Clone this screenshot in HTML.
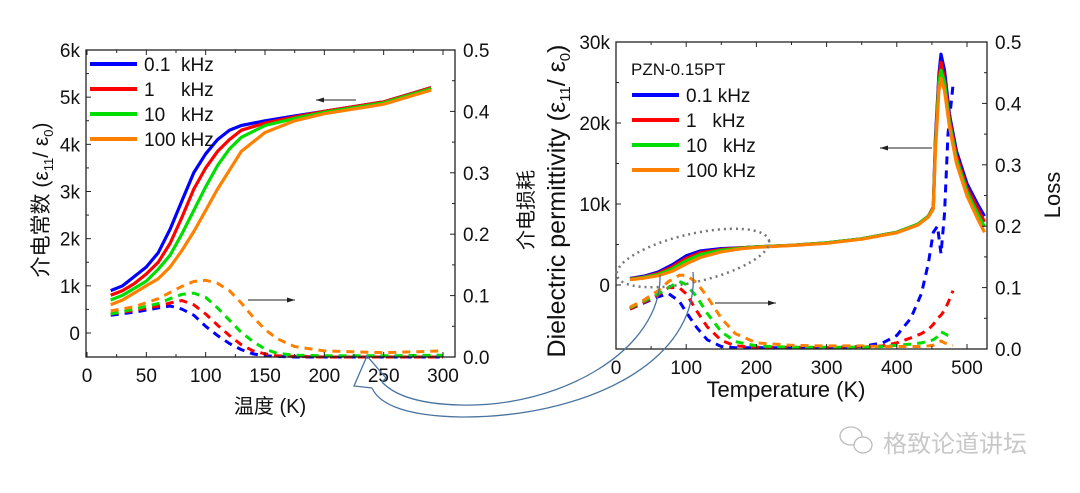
<!DOCTYPE html>
<html><head><meta charset="utf-8"><style>
html,body{margin:0;padding:0;background:#fff;}
svg{display:block;font-family:"Liberation Sans","Noto Sans CJK SC",sans-serif;}
</style></head><body>
<svg id="s" width="1080" height="493" viewBox="0 0 1080 493" xmlns="http://www.w3.org/2000/svg">
<g id="L"></g>
<g id="R"></g>
<g fill="none" stroke="#4a74a0" stroke-width="1.3">
<path d="M660,275 C662,350 560,408 460,405 C420,404 395,396 382,382"/>
<path d="M693,272 C700,365 580,418 460,417 C410,416 380,406 372,388"/>
<path d="M382,382 L386,378 L367,356 L354,386 L372,388"/>
</g>
<g>
<g fill="none" stroke="#bbb" stroke-width="1.3"><ellipse cx="851" cy="436" rx="11" ry="9"/><ellipse cx="863" cy="445" rx="9" ry="8" fill="#fff"/></g>
<text x="883" y="452" font-size="24" fill="#c8c8c8">格致论道讲坛</text>
</g>
</svg>
<script>
// ---- Left chart data ----
const leftTemps=[20,30,40,50,60,70,80,90,100,110,120,130,150,175,200,250,290];
const leftEps01=[900,1000,1200,1400,1700,2200,2800,3400,3800,4100,4300,4400,4500,4600,4700,4900,5200];
const leftEps1=[800,900,1050,1250,1500,1900,2450,3050,3500,3850,4100,4300,4450,4580,4700,4900,5200];
const leftEps10=[700,800,950,1100,1350,1650,2100,2600,3100,3550,3900,4150,4400,4550,4680,4880,5180];
const leftEps100=[600,700,850,1000,1150,1400,1750,2150,2600,3050,3450,3850,4250,4500,4650,4850,5150];
const leftLossTemps=[20,40,60,70,80,90,100,110,120,130,140,150,160,175,200,250,300];
const leftLoss01=[0.068,0.073,0.08,0.083,0.078,0.068,0.05,0.035,0.022,0.012,0.005,0.002,0.001,0,0,0,0];
const leftLoss1=[0.07,0.076,0.083,0.088,0.092,0.085,0.07,0.052,0.035,0.02,0.01,0.005,0.002,0.001,0,0,0];
const leftLoss10=[0.07,0.078,0.087,0.095,0.102,0.104,0.097,0.08,0.06,0.04,0.025,0.013,0.006,0.003,0.002,0.002,0.003];
const leftLoss100=[0.075,0.082,0.095,0.105,0.115,0.123,0.125,0.12,0.108,0.088,0.065,0.045,0.03,0.017,0.01,0.007,0.01];
// ---- Right chart data ----
const rightTemps=[20,40,60,80,100,120,150,180,200,250,300,350,400,430,445,452,455,460,463,468,475,485,500,515,525];
const rightEps01=[800,1100,1600,2500,3600,4200,4500,4600,4700,4900,5200,5700,6500,7500,8500,9600,18000,26000,28500,26500,21000,16500,12500,10000,8500];
const rightEps1=[750,1000,1450,2250,3300,4000,4400,4600,4700,4900,5200,5700,6500,7500,8500,9600,17500,25500,27500,25500,20500,16000,12000,9500,7800];
const rightEps10=[700,950,1300,2000,3000,3750,4300,4550,4700,4900,5200,5700,6500,7500,8500,9500,17000,25000,26500,25000,20000,15500,11500,8800,7200];
const rightEps100=[650,850,1150,1700,2600,3400,4100,4500,4650,4880,5150,5650,6450,7400,8400,9400,16500,24000,25500,24000,19500,15000,11000,8200,6500];
const rightLossTemps=[20,40,60,75,90,100,115,130,150,170,200,250,300,350,380,400,420,435,445,452,458,463,468,473,480];
const rightLoss01=[0.065,0.075,0.085,0.09,0.078,0.06,0.035,0.015,0.004,0.002,0.002,0.002,0.002,0.004,0.01,0.022,0.05,0.09,0.14,0.19,0.2,0.155,0.22,0.35,0.43];
const rightLoss1=[0.065,0.076,0.088,0.1,0.1,0.09,0.062,0.036,0.014,0.005,0.003,0.003,0.002,0.003,0.005,0.01,0.018,0.025,0.032,0.04,0.05,0.055,0.063,0.075,0.095];
const rightLoss10=[0.067,0.078,0.09,0.1,0.11,0.105,0.085,0.058,0.028,0.012,0.005,0.003,0.003,0.003,0.004,0.006,0.008,0.01,0.013,0.015,0.02,0.028,0.025,0.022,0.02];
const rightLoss100=[0.068,0.08,0.095,0.11,0.12,0.12,0.108,0.085,0.05,0.025,0.01,0.006,0.005,0.005,0.004,0.004,0.004,0.004,0.005,0.006,0.01,0.013,0.01,0.008,0.006];
const leftXTicks=[0,50,100,150,200,250,300];
const leftYTicks=[0,1000,2000,3000,4000,5000,6000];
const leftYLabels=["0","1k","2k","3k","4k","5k","6k"];
const lossTicks=[0,0.1,0.2,0.3,0.4,0.5];
const rightXTicks=[0,100,200,300,400,500];
const rightYTicks=[0,10000,20000,30000];
const rightYLabels=["0","10k","20k","30k"];
const colors=["#0000ff","#ff0000","#00dd00","#ff8000"];
const legendLabels=["0.1  kHz","1     kHz","10   kHz","100 kHz"];

const NS="http://www.w3.org/2000/svg";
function mk(parent,tag,attrs,txt){const e=document.createElementNS(NS,tag);for(const k in attrs)e.setAttribute(k,attrs[k]);if(txt!==undefined)e.textContent=txt;parent.appendChild(e);return e;}
function lin(d0,d1,r0,r1){return v=>r0+(v-d0)/(d1-d0)*(r1-r0);}

function drawChart(g,cfg){
  const x=lin(cfg.xd[0],cfg.xd[1],cfg.px[0],cfg.px[1]);
  const y=lin(cfg.yd[0],cfg.yd[1],cfg.py[0],cfg.py[1]);
  const y2=lin(0,0.5,cfg.box.b,cfg.box.t);
  const b=cfg.box;
  cfg.loss.forEach((arr,i)=>{
    const p=mk(g,'path',{d:arr.map((v,j)=>(j?'L':'M')+x(cfg.lossT[j]).toFixed(1)+','+y2(v).toFixed(1)).join(''),fill:'none',stroke:colors[i],'stroke-width':3,'stroke-dasharray':'8,6'});
    
    
  });
  cfg.eps.forEach((arr,i)=>{
    const p=mk(g,'path',{d:arr.map((v,j)=>(j?'L':'M')+x(cfg.epsT[j]).toFixed(1)+','+y(v).toFixed(1)).join(''),fill:'none',stroke:colors[i],'stroke-width':3.2,'stroke-linejoin':'round'});
    
    
  });
  const fr=mk(g,'rect',{x:b.l,y:b.t,width:b.r-b.l,height:b.b-b.t,fill:'none',stroke:'#222','stroke-width':1.3});
  
  
  cfg.xt.forEach((t,i)=>{
    const xx=x(t);
    mk(g,'line',{x1:xx,x2:xx,y1:b.b,y2:b.b-5,stroke:'#222'});
    mk(g,'line',{x1:xx,x2:xx,y1:b.t,y2:b.t+5,stroke:'#222'});
    const tl=mk(g,'text',{x:xx,y:b.b+25,'font-size':19,'text-anchor':'middle',fill:'#111'},String(t));
    
    
    if(i<cfg.xt.length-1){const m=x(t+(cfg.xt[1]-cfg.xt[0])/2);mk(g,'line',{x1:m,x2:m,y1:b.b,y2:b.b-3,stroke:'#222'});mk(g,'line',{x1:m,x2:m,y1:b.t,y2:b.t+3,stroke:'#222'});}
  });
  cfg.yt.forEach((t,i)=>{
    const yy=y(t);
    mk(g,'line',{x1:b.l,x2:b.l+5,y1:yy,y2:yy,stroke:'#222'});
    const tl=mk(g,'text',{x:b.l-6,y:yy+7,'font-size':19,'text-anchor':'end',fill:'#111'},cfg.yl[i]);
    
    
    const m=y(t+(cfg.yt[1]-cfg.yt[0])/2);if(m>b.t)mk(g,'line',{x1:b.l,x2:b.l+3,y1:m,y2:m,stroke:'#222'});
  });
  lossTicks.forEach(t=>{
    const yy=y2(t);
    mk(g,'line',{x1:b.r,x2:b.r-5,y1:yy,y2:yy,stroke:'#222'});
    const m=y2(t+0.05);if(t<0.5)mk(g,'line',{x1:b.r,x2:b.r-3,y1:m,y2:m,stroke:'#222'});
    const tl=mk(g,'text',{x:b.r+8,y:yy+7,'font-size':19,fill:'#111'},t.toFixed(1));
    
    
  });
}

const L=document.getElementById('L');
drawChart(L,{xd:[0,300],px:[87,443],yd:[0,6000],py:[333,50],box:{l:86,r:455,t:50,b:357},
  eps:[leftEps01,leftEps1,leftEps10,leftEps100],epsT:leftTemps,loss:[leftLoss01,leftLoss1,leftLoss10,leftLoss100],lossT:leftLossTemps,
  xt:leftXTicks,yt:leftYTicks,yl:leftYLabels});
const R=document.getElementById('R');
drawChart(R,{xd:[0,500],px:[616,967],yd:[0,30000],py:[285,42],box:{l:616,r:987,t:42,b:349},
  eps:[rightEps01,rightEps1,rightEps10,rightEps100],epsT:rightTemps,loss:[rightLoss01,rightLoss1,rightLoss10,rightLoss100],lossT:rightLossTemps,
  xt:rightXTicks,yt:rightYTicks,yl:rightYLabels});

function legend(g,x0,y0,dy,labels,nm){
  labels.forEach((t,i)=>{
    const yy=y0+i*dy;
    const l=mk(g,'line',{x1:x0,x2:x0+47,y1:yy,y2:yy,stroke:colors[i],'stroke-width':4});
    
    
    const tx=mk(g,'text',{x:x0+54,y:yy+7,'font-size':19,fill:'#111'},t);
    
    
    tx.setAttribute('style','white-space:pre');
  });
}
legend(L,90,64,25,legendLabels,'left-legend');
legend(R,632,95,25,["0.1 kHz","1   kHz","10   kHz","100 kHz"],'right-legend');
let t=mk(R,'text',{x:631,y:75,'font-size':17,fill:'#111'},'PZN-0.15PT');



function txt(g,x,y,s,fs,rot,nm){const e=mk(g,'text',{x:x,y:y,'font-size':fs,'text-anchor':'middle',fill:'#111',transform:rot?`rotate(-90 ${x} ${y})`:''},s);return e;}
txt(L,270,413,'温度 (K)',20,false,'x-axis-title');
const ly=txt(L,48,200,'',21,true,'y-axis-title');
ly.innerHTML='介电常数  (ε<tspan font-size="13" dy="5">11</tspan><tspan dy="-5">/ ε</tspan><tspan font-size="13" dy="5">0</tspan><tspan dy="-5">)</tspan>';
txt(L,533,210,'介电损耗',20,true,'y2-axis-title');
txt(R,786,397,'Temperature (K)',22,false,'x-axis-title');
const ry=txt(R,565,201,'',25,true,'y-axis-title');
ry.innerHTML='Dielectric permittivity (ε<tspan font-size="15" dy="5">11</tspan><tspan dy="-5">/ ε</tspan><tspan font-size="15" dy="5">0</tspan><tspan dy="-5">)</tspan>';
txt(R,1060,195,'Loss',22,true,'y2-axis-title');

function arrow(g,x1,x2,y,nm){const e=mk(g,'g',{});
  mk(e,'line',{x1:x1,x2:x2,y1:y,y2:y,stroke:'#222','stroke-width':1});
  const d=x2>x1?1:-1;mk(e,'path',{d:`M${x2},${y} L${x2-d*8},${y-2.5} L${x2-d*8},${y+2.5}Z`,fill:'#222'});}
arrow(L,356,316,100,'left-arrow-eps');
arrow(L,248,295,300,'right-arrow-loss');
arrow(R,932,880,148,'left-arrow-eps');
arrow(R,715,776,303,'right-arrow-loss');
const el=mk(R,'ellipse',{cx:693,cy:258,rx:78,ry:24,transform:'rotate(-13 693 258)',fill:'none',stroke:'#777','stroke-width':2.5,'stroke-dasharray':'2,4'});


</script>
</body></html>
